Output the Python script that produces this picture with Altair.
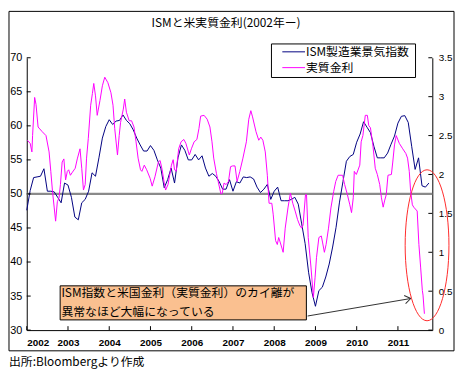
import altair as alt
import pandas as pd

# ---------------- data ----------------
# ISM manufacturing index, monthly from Jan 2002
ism_values = [
    47.6, 50.5, 52.4, 52.5, 52.6, 53.7, 50.4, 50.4, 50.3, 49.5, 48.7, 51.6,
    51.3, 49.5, 46.6, 46.2, 48.7, 49.2, 50.4, 53.1, 52.6, 55.3, 58.2, 59.9,
    60.9, 60.2, 60.7, 60.8, 61.6, 60.8, 60.3, 59.4, 58.2, 57.2, 56.3, 56.3,
    57.1, 56.4, 55.0, 53.8, 50.9, 52.1, 53.8, 51.6, 55.3, 57.2, 56.4, 55.0,
    55.0, 55.8, 55.0, 55.6, 53.8, 52.6, 53.0, 52.6, 51.8, 50.7, 50.7, 52.1,
    50.4, 51.8, 51.6, 52.5, 52.4, 52.5, 52.2, 51.0, 50.2, 50.7, 51.4, 49.2,
    50.4, 51.0, 49.0, 49.0, 49.0, 49.2, 49.5, 48.5, 45.6, 42.7, 38.5, 35.5,
    33.5, 35.8, 36.3, 37.8, 39.7, 42.2, 45.1, 48.8, 51.8, 54.8, 55.5, 55.8,
    57.6, 58.8, 60.6, 59.8, 59.0, 57.0, 55.3, 55.3, 55.3, 56.0, 57.3, 58.5,
    60.4, 61.4, 61.5, 60.5, 57.0, 53.6, 55.3, 51.2, 51.0, 51.6,
]

# Real interest rate: (months since Jan 2002, value)
rr_points = [
    (0.2, 2.44), (1.0, 2.40), (1.5, 2.29), (1.7, 2.50), (2.3, 2.99), (2.7, 2.90),
    (3.3, 2.61), (4.5, 2.55), (5.6, 2.50), (6.5, 2.29), (7.0, 2.04), (7.5, 1.78),
    (8.0, 1.57), (8.4, 1.40), (8.9, 1.65), (9.4, 1.70), (9.8, 1.87), (10.3, 2.16),
    (10.8, 2.20), (11.3, 1.93), (11.8, 2.04), (12.2, 2.06), (12.7, 1.99), (13.3, 2.03),
    (14.1, 2.08), (14.7, 2.20), (15.5, 2.33), (16.0, 2.08), (16.5, 1.80), (17.0, 1.87),
    (17.4, 2.21), (17.9, 2.46), (18.6, 2.89), (19.1, 3.04), (19.5, 3.17), (20.0, 3.01),
    (20.5, 2.76), (21.3, 2.95), (22.0, 3.14), (22.7, 3.25), (23.6, 3.18), (24.5, 3.05),
    (25.1, 2.89), (25.6, 2.59), (26.4, 2.25), (26.9, 2.50), (27.3, 2.67), (28.1, 2.84),
    (28.5, 2.97), (29.0, 2.80), (29.8, 2.69), (30.5, 2.69), (31.2, 2.61), (31.8, 2.42),
    (32.4, 2.21), (33.1, 2.06), (33.5, 2.04), (34.2, 2.12), (34.9, 2.06), (35.9, 1.95),
    (36.5, 1.85), (37.3, 1.97), (38.3, 2.16), (38.8, 2.18), (39.4, 2.06), (40.0, 1.89),
    (40.4, 1.80), (41.1, 1.87), (42.1, 2.12), (42.6, 2.19), (43.0, 2.06), (43.5, 2.04),
    (44.2, 2.33), (44.9, 2.42), (45.7, 2.45), (46.3, 2.40), (47.3, 2.25), (47.9, 2.33),
    (48.7, 2.42), (49.5, 2.45), (50.1, 2.59), (50.6, 2.75), (51.6, 2.76), (52.5, 2.71),
    (53.3, 2.61), (53.9, 2.42), (54.4, 2.21), (55.2, 2.01), (55.8, 1.89), (56.5, 1.75),
    (56.9, 1.76), (57.4, 1.89), (58.0, 1.87), (58.7, 1.91), (59.3, 2.10), (59.9, 2.11),
    (60.6, 2.11), (61.2, 1.91), (62.0, 2.04), (62.9, 2.21), (63.9, 2.42), (64.6, 2.71),
    (65.2, 2.82), (65.7, 2.74), (66.7, 2.55), (67.5, 2.44), (68.1, 2.48), (68.7, 2.44),
    (69.4, 2.29), (70.0, 1.99), (70.5, 1.63), (71.3, 1.63), (71.7, 1.49), (72.4, 1.15),
    (72.9, 1.10), (73.3, 1.19), (73.8, 1.12), (74.6, 1.00), (75.2, 1.31), (76.0, 1.57),
    (76.7, 1.76), (77.4, 1.63), (78.1, 1.53), (78.8, 1.42), (79.5, 1.34), (80.0, 1.31),
    (80.4, 1.35), (81.1, 1.74), (81.4, 1.74), (81.9, 1.19), (82.7, 0.81), (83.4, 0.42),
    (83.9, 0.68), (84.3, 0.93), (85.0, 1.19), (85.7, 1.21), (86.1, 1.12), (86.6, 1.00),
    (87.1, 1.10), (87.8, 1.31), (88.5, 1.57), (89.3, 1.78), (89.9, 1.91), (90.6, 1.99),
    (91.9, 1.99), (92.5, 1.87), (93.3, 1.74), (94.0, 1.61), (94.5, 1.51), (95.0, 1.70),
    (95.3, 2.04), (95.9, 2.00), (96.9, 2.12), (97.3, 2.42), (97.8, 2.50), (98.5, 2.76),
    (99.1, 2.76), (99.5, 2.63), (100.0, 2.60), (100.7, 2.38), (101.4, 2.08), (102.0, 2.00),
    (102.7, 1.87), (103.2, 1.70), (103.7, 1.58), (104.1, 1.66), (104.6, 1.74), (105.1, 1.99),
    (106.1, 2.00), (106.5, 2.16), (107.0, 2.38), (107.5, 2.50), (108.4, 2.40), (109.4, 2.33),
    (110.3, 2.27), (110.8, 2.21), (111.3, 2.04), (111.7, 1.78), (112.2, 1.61), (112.6, 1.58),
    (113.6, 1.53), (114.1, 1.10), (114.6, 0.81), (115.1, 0.51), (115.3, 0.45), (115.7, 0.21),
]

left_ticks = [30, 35, 40, 45, 50, 55, 60, 65, 70]
right_ticks = [0, 0.5, 1, 1.5, 2, 2.5, 3, 3.5]
year_ticks = list(range(2002, 2012))

title_text = "ISMと米実質金利(2002年ー)"
legend_labels = ["ISM製造業景気指数", "実質金利"]
note_lines = ["ISM指数と米国金利（実質金利）のカイ離が", "異常なほど大幅になっている"]
source_text = "出所:Bloombergより作成"

# ---------------- frames ----------------
ism_df = pd.DataFrame({"t": [2002 + i / 12 for i in range(len(ism_values))], "v": ism_values})
rr_df = pd.DataFrame({"t": [2002 + m / 12 for m, _ in rr_points], "v": [v for _, v in rr_points]})
one = pd.DataFrame({"a": [0]})

W, H = 411, 276
NAVY = "#000080"
MAG = "#FF00FF"
JP = "Noto Sans CJK JP"
NUM = "Liberation Sans"

xscale = alt.Scale(domain=[2002, 2002 + 118 / 12], nice=False, zero=False)
yL = alt.Scale(domain=[30, 70], nice=False, zero=False)
yR = alt.Scale(domain=[0, 3.5], nice=False, zero=False)

x_axis = alt.Axis(values=year_ticks, format="d", ticks=False, tickSize=0, labelPadding=8,
                  labelFontSize=10, labelFontWeight="bold", labelFont=NUM, labelColor="black",
                  domainColor="black", domainWidth=1, grid=False, title=None)
left_axis = alt.Axis(values=left_ticks, ticks=False, tickSize=0, labelPadding=5,
                     labelFontSize=11, labelFont=NUM, labelColor="black",
                     domainColor="black", domainWidth=1, grid=False, title=None)
right_axis = alt.Axis(values=right_ticks, orient="right", ticks=False, tickSize=0, labelPadding=6,
                      labelFontSize=10, labelFont=NUM, labelColor="black",
                      labelExpr="datum.value + ''",
                      domainColor="black", domainWidth=1, grid=False, title=None)


def X(field):
    return alt.X(field, scale=xscale, axis=x_axis)


def YL(field):
    return alt.Y(field, scale=yL, axis=left_axis)


def YR(field):
    return alt.Y(field, scale=yR, axis=right_axis)


# left-scale group
gray = alt.Chart(pd.DataFrame({"v": [50]})).mark_rule(color="#8a8a8a", strokeWidth=2.2,
                                                        opacity=1).encode(y=YL("v:Q"))

ism_line = alt.Chart(ism_df).mark_line(color=NAVY, strokeWidth=1).encode(
    x=X("t:Q"), y=YL("v:Q"))

lticks = alt.Chart(pd.DataFrame({"v": left_ticks})).mark_rule(color="black").encode(
    y=YL("v:Q"), x=alt.value(0), x2=alt.value(4))
xticks = alt.Chart(pd.DataFrame({"t": year_ticks})).mark_rule(color="black").encode(
    x=X("t:Q"), y=alt.value(H - 4), y2=alt.value(H))

box_df = pd.DataFrame({"x1": [2002.81], "x2": [2008.78], "y1": [31.5], "y2": [36.5]})
note_box = alt.Chart(box_df).mark_rect(fill="#FAC090", stroke="black", strokeWidth=1).encode(
    x=X("x1:Q"), x2="x2", y=YL("y1:Q"), y2="y2")

note_df = pd.DataFrame({"t": [2002.84, 2002.84], "v": [35.45, 32.7], "s": note_lines})
note_text = alt.Chart(note_df).mark_text(align="left", baseline="middle", font=JP, fontSize=12,
                                         color="black").encode(
    x=X("t:Q"), y=YL("v:Q"), text="s:N")

arrow_df = pd.DataFrame({"x1": [2008.81], "x2": [2011.31], "y1": [32.07], "y2": [34.64]})
arrow = alt.Chart(arrow_df).mark_rule(color="#303030", strokeWidth=1).encode(
    x=X("x1:Q"), x2="x2", y=YL("y1:Q"), y2="y2")
arrow_head = alt.Chart(arrow_df).mark_point(
    shape="M-1,-0.7L0,0L-1,0.7", filled=False, color="#303030", strokeWidth=1,
    size=144, angle=350, opacity=1).encode(
    x=X("x2:Q"), y=YL("y2:Q"))

ell_df = pd.DataFrame({"t": [2011.706], "v": [42.46]})
ellipse = alt.Chart(ell_df).mark_point(
    shape="M0,-1C0.16,-1,0.29,-0.552,0.29,0C0.29,0.552,0.16,1,0,1C-0.16,1,-0.29,0.552,-0.29,0C-0.29,-0.552,-0.16,-1,0,-1Z",
    filled=False, color="#FF2a2a", strokeWidth=1, size=153 * 153, opacity=1).encode(
    x=X("t:Q"), y=YL("v:Q"))

# decorations in pixel space
frame = alt.Chart(one).mark_rect(fill="white", fillOpacity=0, stroke="black", strokeWidth=1).encode(
    x=alt.value(-18), x2=alt.value(433), y=alt.value(-47), y2=alt.value(297))
title = alt.Chart(one).mark_text(font=JP, fontSize=12, color="black", baseline="middle").encode(
    x=alt.value(202), y=alt.value(-35), text=alt.value(title_text))
source = alt.Chart(one).mark_text(font=JP, fontSize=12, color="black", align="left",
                                  baseline="middle").encode(
    x=alt.value(-18), y=alt.value(308), text=alt.value(source_text))

leg_box = alt.Chart(one).mark_rect(fill="white", stroke="black", strokeWidth=1).encode(
    x=alt.value(248), x2=alt.value(394), y=alt.value(-14), y2=alt.value(20))
leg_l1 = alt.Chart(one).mark_rule(color=NAVY, strokeWidth=1).encode(
    x=alt.value(259), x2=alt.value(282), y=alt.value(-6))
leg_l2 = alt.Chart(one).mark_rule(color=MAG, strokeWidth=1).encode(
    x=alt.value(259), x2=alt.value(282), y=alt.value(10))
leg_t1 = alt.Chart(one).mark_text(font=JP, fontSize=12, color="black", align="left",
                                  baseline="middle").encode(
    x=alt.value(283), y=alt.value(-6), text=alt.value(legend_labels[0]))
leg_t2 = alt.Chart(one).mark_text(font=JP, fontSize=12, color="black", align="left",
                                  baseline="middle").encode(
    x=alt.value(283), y=alt.value(10), text=alt.value(legend_labels[1]))

left_group = alt.layer(gray, ism_line, lticks, xticks, note_box, note_text, arrow, arrow_head,
                       ellipse, frame, title, source, leg_box, leg_l1, leg_l2, leg_t1, leg_t2)

rr_line = alt.Chart(rr_df).mark_line(color=MAG, strokeWidth=1).encode(
    x=X("t:Q"), y=YR("v:Q"))
rticks = alt.Chart(pd.DataFrame({"v": right_ticks})).mark_rule(color="black").encode(
    y=YR("v:Q"), x=alt.value(W - 4), x2=alt.value(W))

right_group = alt.layer(rr_line, rticks)

chart = alt.layer(left_group, right_group).resolve_scale(y="independent").properties(
    width=W, height=H, padding=0, background="white"
).configure_view(stroke=None)

chart.save("out.html", embed_options={"renderer": "svg", "actions": False})
